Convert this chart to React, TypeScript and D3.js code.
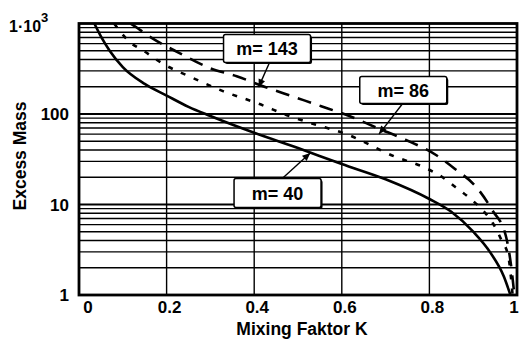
import React from "react";
import * as d3 from "d3";

// Mixing factor K (x) and excess mass (y, log scale) for three mass numbers
const kM40 = [0.035, 0.05, 0.07, 0.1, 0.15, 0.2, 0.25, 0.3, 0.4, 0.5, 0.6, 0.7, 0.8, 0.85, 0.9, 0.94, 0.97, 0.985];
const massM40 = [1000, 720, 500, 330, 215, 160, 120, 95, 62, 42, 28, 19, 11.5, 8.3, 5, 2.9, 1.6, 1];

const kM86 = [0.08, 0.115, 0.15, 0.19, 0.26, 0.33, 0.41, 0.48, 0.53, 0.61, 0.72, 0.79, 0.83, 0.86, 0.89, 0.92, 0.945, 0.965, 0.98, 0.99];
const massM86 = [1000, 630, 490, 363, 250, 178, 130, 95, 79, 60, 34, 25.5, 20, 15.5, 12, 8.8, 6.2, 4, 2.7, 1];

const kM143 = [0.118, 0.13, 0.155, 0.178, 0.226, 0.3, 0.36, 0.425, 0.485, 0.553, 0.617, 0.681, 0.745, 0.816, 0.857, 0.91, 0.944, 0.974, 0.986, 0.994];
const massM143 = [1000, 915, 750, 640, 480, 320, 261, 199, 158, 122, 95, 70, 52, 35, 25, 15, 8.6, 4.6, 2.2, 1];

const xTicks = [0, 0.2, 0.4, 0.6, 0.8, 1];
const xTickLabels = ["0", "0.2", "0.4", "0.6", "0.8", "1"];
const yTicks = [1, 10, 100];
const yTickLabels = ["1", "10", "100"];

const series = [
  { name: "m= 40", k: kM40, mass: massM40, dash: "none" },
  { name: "m= 86", k: kM86, mass: massM86, dash: "5,9" },
  { name: "m= 143", k: kM143, mass: massM143, dash: "14,9" },
];

const W = 519;
const H = 341;
const left = 79;
const right = 517;
const top = 23.5;
const bottom = 295;

const FONT = "'Liberation Sans', Arial, sans-serif";

export default function App() {
  const x = d3.scaleLinear().domain([0, 1]).range([left, right]);
  const y = d3.scaleLog().domain([1, 1000]).range([bottom, top]);

  const minor: number[] = [];
  for (const dec of [1, 10, 100]) {
    for (let i = 2; i <= 9; i++) minor.push(dec * i);
  }

  const line = d3
    .line<[number, number]>()
    .x((d) => x(d[0]))
    .y((d) => y(d[1]))
    .curve(d3.curveMonotoneX);

  const paths = series.map((s) => ({
    ...s,
    d: line(s.k.map((k, i) => [k, s.mass[i]] as [number, number])) || "",
  }));

  // label boxes with leader arrows pointing at their curve
  const labels = [
    { text: "m= 143", bx: x(0.33), by: y(1000) + 11, w: 87, h: 28, from: [x(0.435), y(1000) + 39], to: [x(0.41), y(198)] },
    { text: "m= 86", bx: x(0.641), by: y(1000) + 53, w: 87, h: 27, from: [x(0.739), y(1000) + 80], to: [x(0.685), y(60)] },
    { text: "m= 40", bx: x(0.354), by: y(10) - 26, w: 87, h: 29, from: [x(0.464), y(10) - 26], to: [x(0.528), y(37)] },
  ];

  const arrowHead = (from: number[], to: number[]) => {
    const ang = Math.atan2(to[1] - from[1], to[0] - from[0]);
    const len = 8;
    const wid = 3.5;
    const bx = to[0] - len * Math.cos(ang);
    const by = to[1] - len * Math.sin(ang);
    const px = -Math.sin(ang) * wid;
    const py = Math.cos(ang) * wid;
    return `M${to[0]},${to[1]}L${bx + px},${by + py}L${bx - px},${by - py}Z`;
  };

  return (
    <svg
      width={W}
      height={H}
      style={{ position: "absolute", left: 0, top: 0, background: "#fff" }}
      fontFamily={FONT}
    >
      <defs>
        <clipPath id="plotClip">
          <rect x={left} y={top} width={right - left} height={bottom - top} />
        </clipPath>
      </defs>

      {/* horizontal log grid */}
      {minor.map((v) => (
        <line key={"h" + v} x1={left} x2={right} y1={y(v)} y2={y(v)} stroke="#000" strokeWidth={1.3} />
      ))}
      {[10, 100].map((v) => (
        <line key={"hd" + v} x1={left} x2={right} y1={y(v)} y2={y(v)} stroke="#000" strokeWidth={2} />
      ))}
      {/* vertical grid */}
      {xTicks.slice(1, -1).map((t) => (
        <line key={"v" + t} x1={x(t)} x2={x(t)} y1={top} y2={bottom} stroke="#000" strokeWidth={1.4} />
      ))}

      {/* curves */}
      <g clipPath="url(#plotClip)">
        {paths.map((p) => (
          <path
            key={p.name}
            d={p.d}
            fill="none"
            stroke="#000"
            strokeWidth={2.6}
            strokeDasharray={p.dash}
          />
        ))}
      </g>

      {/* frame */}
      <rect x={left} y={top} width={right - left} height={bottom - top} fill="none" stroke="#000" strokeWidth={2.8} />

      {/* labels with arrows */}
      {labels.map((l) => (
        <g key={l.text}>
          <line x1={l.from[0]} y1={l.from[1]} x2={l.to[0]} y2={l.to[1]} stroke="#000" strokeWidth={1.4} />
          <path d={arrowHead(l.from, l.to)} fill="#000" />
          <rect x={l.bx + 1.5} y={l.by + 1.5} width={l.w} height={l.h} rx={2} fill="#000" />
          <rect x={l.bx} y={l.by} width={l.w} height={l.h} rx={2} fill="#fff" stroke="#000" strokeWidth={1.5} />
          <text
            x={l.bx + l.w / 2}
            y={l.by + l.h / 2 + 6.5}
            textAnchor="middle"
            fontSize={18}
            fontWeight="bold"
          >
            {l.text}
          </text>
        </g>
      ))}

      {/* x tick labels */}
      {xTicks.map((t, i) => (
        <text
          key={"xt" + t}
          x={x(t) + (i === 0 ? 9 : i === xTicks.length - 1 ? -3 : 3)}
          y={313}
          textAnchor="middle"
          fontSize={17}
          fontWeight="bold"
        >
          {xTickLabels[i]}
        </text>
      ))}

      {/* y tick labels */}
      {yTicks.map((t, i) => (
        <text key={"yt" + t} x={69} y={y(t) + 6} textAnchor="end" fontSize={17} fontWeight="bold">
          {yTickLabels[i]}
        </text>
      ))}
      <text x={9} y={32} fontSize={16} fontWeight="bold">
        1·10
        <tspan dy={-10} fontSize={13}>3</tspan>
      </text>

      {/* axis titles */}
      <text
        transform={`translate(26, 156) rotate(-90)`}
        textAnchor="middle"
        fontSize={17.5}
        fontWeight="bold"
      >
        Excess Mass
      </text>
      <text x={302} y={335} textAnchor="middle" fontSize={17.5} fontWeight="bold">
        Mixing Faktor K
      </text>
    </svg>
  );
}
